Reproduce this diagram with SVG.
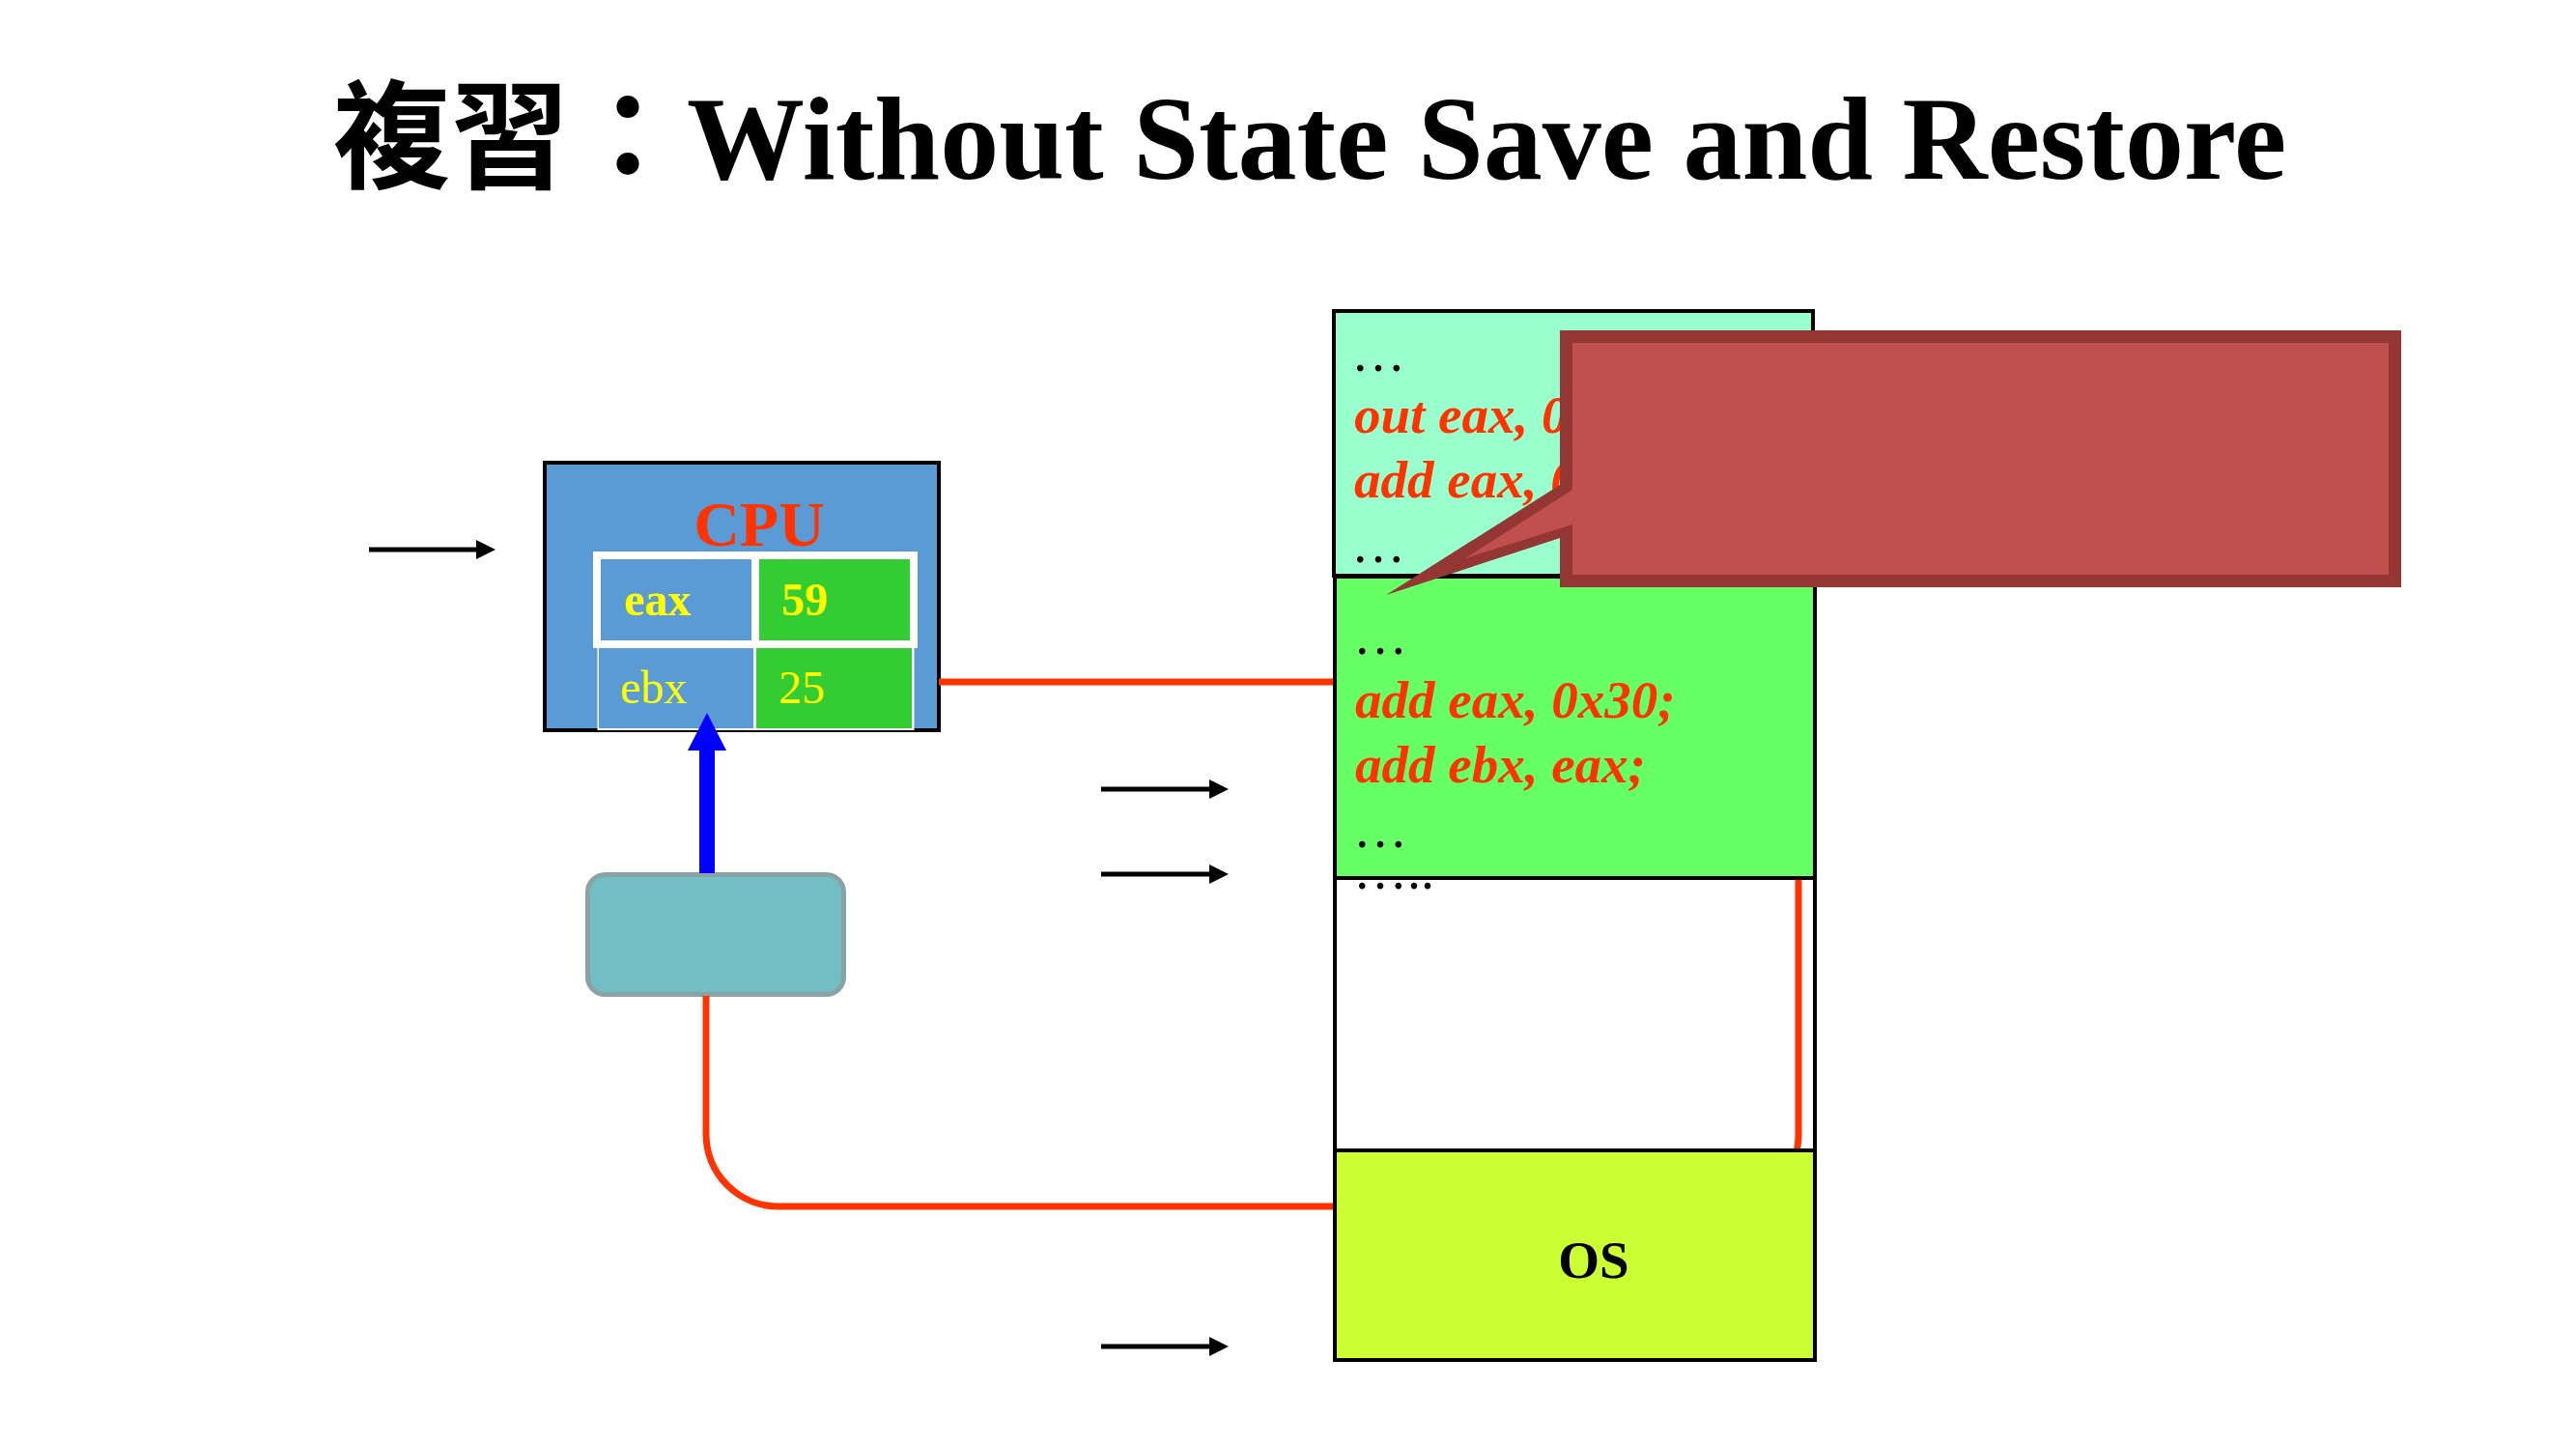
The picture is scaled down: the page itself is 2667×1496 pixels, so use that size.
<svg xmlns="http://www.w3.org/2000/svg" width="2667" height="1496" viewBox="0 0 2667 1496">
  <defs>
    <style>
      .title { font-family: "Liberation Serif", "Noto Sans CJK TC", serif; font-weight: bold; font-size: 122px; fill: #000; }
      .cpu-label { font-family: "Liberation Serif", serif; font-weight: bold; font-size: 66px; fill: #FF3300; }
      .reg { font-family: "Liberation Serif", serif; font-size: 48px; fill: #FFFF00; }
      .bold { font-weight: bold; }
      .code { font-family: "Liberation Serif", serif; font-weight: bold; font-style: italic; font-size: 55px; fill: #FF3300; }
      .dots { font-family: "Liberation Serif", serif; font-size: 56px; fill: #000; }
      .os { font-family: "Liberation Serif", serif; font-weight: bold; font-size: 55px; fill: #000; }
      .mem { stroke: #000; stroke-width: 4; }
      .pointer { stroke: #000; stroke-width: 5; fill: none; }
      .wire { stroke: #FF3300; stroke-width: 7; fill: none; }
    </style>
    <marker id="ah" markerUnits="userSpaceOnUse" markerWidth="22" markerHeight="22" refX="7" refY="10" orient="auto">
      <path d="M0,0 L20,10 L0,20 Z" fill="#000"/>
    </marker>
  </defs>

  <rect width="2667" height="1496" fill="#fff"/>

  <text class="title" x="345" y="185">複習：Without State Save and Restore</text>

  <!-- CPU with its two registers -->
  <g id="cpu">
    <rect x="564" y="479" width="408" height="277" fill="#5B9BD5" stroke="#000" stroke-width="4"/>
    <text class="cpu-label" x="786" y="565" text-anchor="middle">CPU</text>
    <!-- ebx row -->
    <rect x="618.5" y="670" width="328" height="86" fill="#fff"/>
    <rect x="620" y="671" width="160" height="83" fill="#5B9BD5"/>
    <rect x="783" y="671" width="161" height="83" fill="#33CC33"/>
    <text class="reg" x="642" y="728">ebx</text>
    <text class="reg" x="806" y="728">25</text>
    <!-- eax row -->
    <rect x="614" y="571" width="336" height="100" fill="#fff"/>
    <rect x="622" y="579" width="156" height="84" fill="#5B9BD5"/>
    <rect x="786" y="579" width="156" height="84" fill="#33CC33"/>
    <text class="reg bold" x="646" y="637">eax</text>
    <text class="reg bold" x="809" y="637">59</text>
  </g>

  <!-- interrupt source box -->
  <g id="device">
    <rect x="608.5" y="905.5" width="265" height="124" rx="18" fill="#72BEC4" stroke="#89A3A5" stroke-width="5"/>
  </g>

  <g id="connectors">
    <!-- loop: CPU -> program -> OS -> device -->
    <path class="wire" d="M972,706 H1800 A62,62 0 0 1 1862,768 V1175 A74,74 0 0 1 1788,1249 H806 A75,75 0 0 1 731,1174 V1031"/>
    <!-- device signals the CPU -->
    <rect x="724" y="772" width="16" height="132" fill="#0000FF"/>
    <path d="M712,777 L752,777 L732,738 Z" fill="#0000FF"/>
    <!-- pointers -->
    <line class="pointer" x1="382" y1="569" x2="500" y2="569" marker-end="url(#ah)"/>
    <line class="pointer" x1="1140" y1="817" x2="1259" y2="817" marker-end="url(#ah)"/>
    <line class="pointer" x1="1140" y1="905" x2="1259" y2="905" marker-end="url(#ah)"/>
    <line class="pointer" x1="1140" y1="1394" x2="1259" y2="1394" marker-end="url(#ah)"/>
  </g>

  <!-- memory layout -->
  <g id="prog-a">
    <rect class="mem" x="1381" y="322" width="496" height="274" fill="#99FFCC"/>
    <text class="dots" x="1399" y="384">…</text>
    <text class="code" x="1402" y="448">out eax, 0</text>
    <text class="code" x="1402" y="515">add eax, 0</text>
    <text class="dots" x="1399" y="582">…</text>
  </g>
  <g id="prog-b">
    <rect class="mem" x="1382" y="597" width="497" height="312" fill="#66FF66"/>
    <text class="dots" x="1401" y="677">…</text>
    <text class="code" x="1403" y="743">add eax, 0x30;</text>
    <text class="code" x="1403" y="810">add ebx, eax;</text>
    <text class="dots" x="1401" y="877">…</text>
  </g>
  <g id="free">
    <rect class="mem" x="1382" y="909" width="497" height="282" fill="none"/>
    <text class="dots" x="1401" y="920">…..</text>
  </g>
  <g id="os">
    <rect class="mem" x="1382" y="1191" width="497" height="217" fill="#CCFF33"/>
    <text class="os" x="1650" y="1323" text-anchor="middle">OS</text>
  </g>

  <!-- speech callout -->
  <g id="callout">
    <path d="M1615,342 H2486 V608 H1615 V557 L1435,616 L1615,502 Z" fill="#943634"/>
    <path d="M1628,355 H2473 V595 H1628 V543 L1517,578 L1628,507 Z" fill="#C0504D"/>
  </g>
</svg>
